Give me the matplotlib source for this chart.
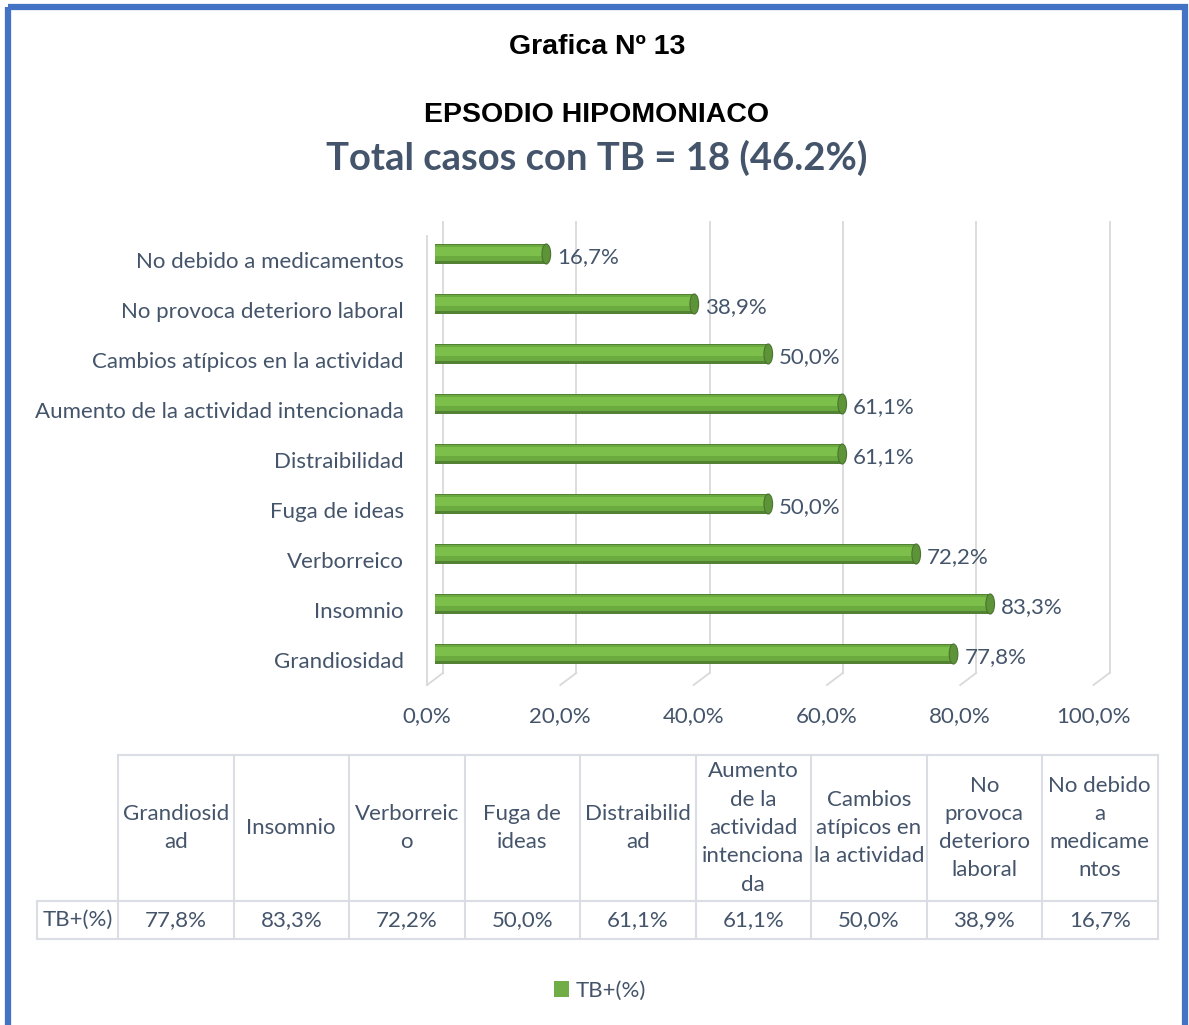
import matplotlib.pyplot as plt
import matplotlib.transforms as mtransforms
from matplotlib.patches import Ellipse, Rectangle, Patch
import numpy as np

# data (bottom to top as drawn in the chart)
categories = ["Grandiosidad", "Insomnio", "Verborreico", "Fuga de ideas",
              "Distraibilidad", "Aumento de la actividad intencionada",
              "Cambios atípicos en la actividad", "No provoca deterioro laboral",
              "No debido a medicamentos"]
values = [77.8, 83.3, 72.2, 50.0, 61.1, 61.1, 50.0, 38.9, 16.7]
table_headers = ["Grandiosid\nad", "Insomnio", "Verborreic\no", "Fuga de\nideas",
                 "Distraibilid\nad", "Aumento\nde la\nactividad\nintenciona\nda",
                 "Cambios\natípicos en\nla actividad", "No\nprovoca\ndeterioro\nlaboral",
                 "No debido\na\nmedicame\nntos"]
x_ticks = [0, 20, 40, 60, 80, 100]
series_name = "TB+(%)"

TXT = "#44546A"
GREEN = "#70AD47"
GRID = "#D9D9D9"
FONT = "Lato"
FS = 16

W, H = 1189, 1025
fig = plt.figure(figsize=(W / 100, H / 100), dpi=100)


def fx(px):
    return px / W


def fy(py):
    return 1 - py / H


def pct(v):
    return f"{v:.1f}%".replace(".", ",")


# overlay axes in pixel coordinates for frame, titles and table
ov = fig.add_axes([0, 0, 1, 1])
ov.set_xlim(0, W)
ov.set_ylim(H, 0)
ov.axis("off")
ov.add_patch(Rectangle((8, 7), 1177, 1100, fill=False, edgecolor="#4472C4", lw=4.5))

ov.text(597, 47, "Grafica Nº 13", ha="center", va="center", fontsize=20.5,
        fontweight="bold", family="Liberation Sans", color="black")
ov.text(597, 115, "EPSODIO HIPOMONIACO", ha="center", va="center", fontsize=20.5,
        fontweight="bold", family="Liberation Sans", color="black")
ov.text(597, 158, "Total casos con TB = 18 (46.2%)", ha="center", va="center",
        fontsize=27.5, fontweight="bold", family=FONT, color=TXT)

# chart axes: bottom 685 px, top 229 px, x 0 -> 435 px, 100 -> 1101.5 px
left, right, top, bottom = 435, 1101.5, 229, 685
ax = fig.add_axes([fx(left), fy(bottom), fx(right - left), (bottom - top) / H])
ax.set_xlim(0, 100)
ax.set_ylim(-0.62, 8.5)
ax.axis("off")

y = np.arange(len(categories))
blend = mtransforms.blended_transform_factory(ax.transData, ax.transAxes)
back = mtransforms.offset_copy(blend, fig=fig, x=8, y=0, units="dots")
front = mtransforms.offset_copy(blend, fig=fig, x=-8, y=0, units="dots")
ytop = (bottom - 222) / (bottom - top)
yfloor = (bottom - 673) / (bottom - top)
for t in x_ticks:
    ax.plot([t, t], [yfloor, ytop], color=GRID, lw=1.3, transform=back, clip_on=False)
    # floor diagonal from back to front
    p0 = back.transform((t, yfloor))
    p1 = front.transform((t, 0))
    ov.plot([p0[0], p1[0]], [H - p0[1], H - p1[1]], color=GRID, lw=1.3)
# side wall
ax.plot([0, 0], [0, (bottom - 236) / (bottom - top)], color=GRID, lw=1.3,
        transform=front, clip_on=False)

# cylinder-like bars
bh = 0.40
ax.barh(y, values, height=bh, color="#548235", zorder=3)
ax.barh(y + bh * 0.06, values, height=bh * 0.82, color="#6AAA3E", zorder=4)
ax.barh(y + bh * 0.14, values, height=bh * 0.45, color="#7CBF4A", zorder=5)
for yi, v in zip(y, values):
    ax.add_patch(Ellipse((v, yi), 1.3, bh, facecolor="#5E9438", edgecolor="#4B7330",
                         lw=0.8, zorder=6))
    ax.add_patch(Ellipse((0, yi), 1.3, bh, facecolor="#6AAA3E", edgecolor="none", zorder=2))

# value labels
for yi, v in zip(y, values):
    ax.annotate(pct(v), (v, yi), xytext=(11, -3), textcoords="offset pixels",
                ha="left", va="center", fontsize=FS, family=FONT, color=TXT, zorder=7)

# category labels
for yi, c in zip(y, categories):
    ax.annotate(c, (0, yi), xytext=(-31, -8), textcoords="offset pixels",
                ha="right", va="center", fontsize=FS, family=FONT, color=TXT)

# x tick labels on the front edge
for t in x_ticks:
    ax.annotate(pct(t), (t, 0), xycoords=blend, xytext=(-8, -31),
                textcoords="offset pixels", ha="center", va="center",
                fontsize=FS, family=FONT, color=TXT)

# data table
tl, t0, colw = 118, 755, 115.5
hdr_bot, row_bot, lab_left = 901, 939, 37
ncol = len(table_headers)
tr = tl + colw * ncol
bc = "#DADDE3"
ov.plot([tl, tr], [t0, t0], color=bc, lw=1.5)
ov.plot([lab_left, tr], [hdr_bot, hdr_bot], color=bc, lw=1.5)
ov.plot([lab_left, tr], [row_bot, row_bot], color=bc, lw=1.5)
ov.plot([lab_left, lab_left], [hdr_bot, row_bot], color=bc, lw=1.5)
for i in range(ncol + 1):
    xx = tl + colw * i
    ov.plot([xx, xx], [t0, row_bot], color=bc, lw=1.5)
table_vals = values
for i, (h, v) in enumerate(zip(table_headers, table_vals)):
    cx = tl + colw * (i + 0.5)
    ov.text(cx, (t0 + hdr_bot) / 2, h, ha="center", va="center", fontsize=FS,
            family=FONT, color=TXT, linespacing=1.52)
    ov.text(cx, (hdr_bot + row_bot) / 2, pct(v), ha="center", va="center",
            fontsize=FS, family=FONT, color=TXT)
ov.text((lab_left + tl) / 2, (hdr_bot + row_bot) / 2, series_name, ha="center",
        va="center", fontsize=FS, family=FONT, color=TXT)

# legend
leg = fig.legend(handles=[Patch(facecolor=GREEN, edgecolor="none", label=series_name)],
                 loc="center", bbox_to_anchor=(fx(600), fy(991)), frameon=False,
                 handlelength=0.7, handleheight=0.7, handletextpad=0.3,
                 prop={"family": FONT, "size": FS})
for txt in leg.get_texts():
    txt.set_color(TXT)

fig.savefig("out.png", dpi=100)
